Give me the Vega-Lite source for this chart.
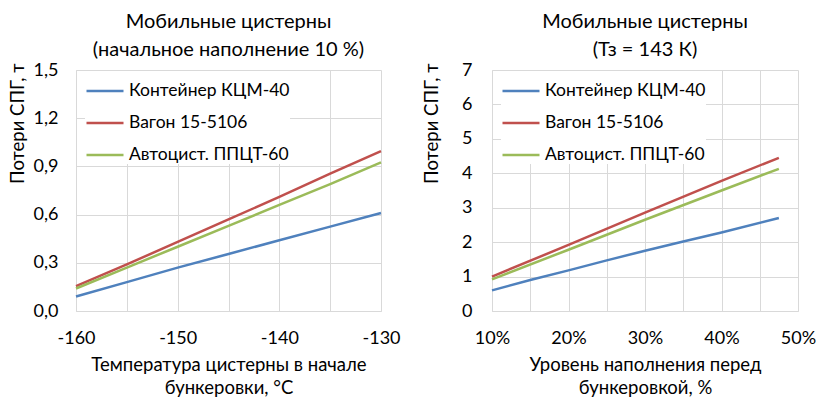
{
  "$schema": "https://vega.github.io/schema/vega-lite/v6.json",
  "padding": {"left": 8, "top": 12, "right": 0, "bottom": 0},
  "background": "white",
  "config": {
    "font": "Lato",
    "view": {"stroke": null},
    "title": {"fontSize": 20, "fontWeight": "normal", "color": "#000000", "lineHeight": 28, "offset": 1},
    "axis": {
      "labelFontSize": 18, "labelColor": "#000000", "titleFontSize": 18.5, "titleFontWeight": "normal", "titleColor": "#000000",
      "grid": true, "gridColor": "#d9d9d9", "gridWidth": 1, "domainColor": "#d9d9d9", "tickSize": 0, "tickColor": "#d9d9d9", "labelFlush": false
    },
    "legend": {"labelFontSize": 17.5, "labelColor": "#000000", "labelLimit": 400}
  },
  "datasets": {
    "left": [
      {"t": -160, "s": "Контейнер КЦМ-40", "v": 0.09},
      {"t": -155, "s": "Контейнер КЦМ-40", "v": 0.18},
      {"t": -150, "s": "Контейнер КЦМ-40", "v": 0.27},
      {"t": -145, "s": "Контейнер КЦМ-40", "v": 0.355},
      {"t": -140, "s": "Контейнер КЦМ-40", "v": 0.44},
      {"t": -135, "s": "Контейнер КЦМ-40", "v": 0.525},
      {"t": -130, "s": "Контейнер КЦМ-40", "v": 0.61},
      {"t": -160, "s": "Вагон 15-5106", "v": 0.155},
      {"t": -155, "s": "Вагон 15-5106", "v": 0.29},
      {"t": -150, "s": "Вагон 15-5106", "v": 0.43},
      {"t": -145, "s": "Вагон 15-5106", "v": 0.57},
      {"t": -140, "s": "Вагон 15-5106", "v": 0.71},
      {"t": -135, "s": "Вагон 15-5106", "v": 0.855},
      {"t": -130, "s": "Вагон 15-5106", "v": 0.995},
      {"t": -160, "s": "Автоцист. ППЦТ-60", "v": 0.14},
      {"t": -155, "s": "Автоцист. ППЦТ-60", "v": 0.27},
      {"t": -150, "s": "Автоцист. ППЦТ-60", "v": 0.4},
      {"t": -145, "s": "Автоцист. ППЦТ-60", "v": 0.53},
      {"t": -140, "s": "Автоцист. ППЦТ-60", "v": 0.66},
      {"t": -135, "s": "Автоцист. ППЦТ-60", "v": 0.79},
      {"t": -130, "s": "Автоцист. ППЦТ-60", "v": 0.925}
    ],
    "right": [
      {"f": 0.10, "s": "Контейнер КЦМ-40", "v": 0.6},
      {"f": 0.15, "s": "Контейнер КЦМ-40", "v": 0.9},
      {"f": 0.20, "s": "Контейнер КЦМ-40", "v": 1.18},
      {"f": 0.25, "s": "Контейнер КЦМ-40", "v": 1.47},
      {"f": 0.30, "s": "Контейнер КЦМ-40", "v": 1.75},
      {"f": 0.35, "s": "Контейнер КЦМ-40", "v": 2.02},
      {"f": 0.40, "s": "Контейнер КЦМ-40", "v": 2.28},
      {"f": 0.475, "s": "Контейнер КЦМ-40", "v": 2.7},
      {"f": 0.10, "s": "Вагон 15-5106", "v": 1.0},
      {"f": 0.20, "s": "Вагон 15-5106", "v": 1.92},
      {"f": 0.30, "s": "Вагон 15-5106", "v": 2.86},
      {"f": 0.40, "s": "Вагон 15-5106", "v": 3.78},
      {"f": 0.475, "s": "Вагон 15-5106", "v": 4.45},
      {"f": 0.10, "s": "Автоцист. ППЦТ-60", "v": 0.92},
      {"f": 0.20, "s": "Автоцист. ППЦТ-60", "v": 1.78},
      {"f": 0.30, "s": "Автоцист. ППЦТ-60", "v": 2.65},
      {"f": 0.40, "s": "Автоцист. ППЦТ-60", "v": 3.5},
      {"f": 0.475, "s": "Автоцист. ППЦТ-60", "v": 4.13}
    ]
  },
  "spacing": 21,
  "hconcat": [
    {
      "width": 305, "height": 241,
      "title": {"text": ["Мобильные цистерны", "(начальное наполнение 10 %)"]},
      "data": {"name": "left"},
      "mark": {"type": "line", "strokeWidth": 2.5},
      "encoding": {
        "x": {"field": "t", "type": "quantitative",
          "scale": {"domain": [-160, -130], "nice": false, "zero": false},
          "axis": {"grid": true, "values": [-160, -155, -150, -145, -140, -135, -130], "labelExpr": "datum.value % 10 === 0 ? replace(datum.label, '\u2212', '-') : ''",
            "labelPadding": 18, "title": ["Температура цистерны в начале", "бункеровки, °C"], "titlePadding": 8, "titleLineHeight": 23}},
        "y": {"field": "v", "type": "quantitative",
          "scale": {"domain": [0, 1.5], "nice": false},
          "axis": {"grid": true, "values": [0, 0.3, 0.6, 0.9, 1.2, 1.5], "labelExpr": "replace(format(datum.value, '.1f'), '.', ',')",
            "labelPadding": 18, "title": "Потери СПГ, т", "titleAnchor": "end", "titleY": -7, "titlePadding": 6}},
        "color": {"field": "s", "type": "nominal",
          "scale": {"domain": ["Контейнер КЦМ-40", "Вагон 15-5106", "Автоцист. ППЦТ-60"], "range": ["#4f81bd", "#c0504d", "#9bbb59"]},
          "legend": {"title": null, "orient": "none", "legendX": 9, "legendY": 1, "fillColor": "white", "padding": 0,
            "symbolType": "stroke", "symbolStrokeWidth": 2.5, "symbolSize": 1369, "labelOffset": 4, "rowPadding": 3}}
      }
    },
    {
      "width": 306, "height": 241,
      "title": {"text": ["Мобильные цистерны", "(Тз = 143 К)"]},
      "data": {"name": "right"},
      "mark": {"type": "line", "strokeWidth": 2.5},
      "encoding": {
        "x": {"field": "f", "type": "quantitative",
          "scale": {"domain": [0.1, 0.5], "nice": false, "zero": false},
          "axis": {"grid": true, "values": [0.1, 0.15, 0.2, 0.25, 0.3, 0.35, 0.4, 0.45, 0.5], "labelExpr": "round(datum.value * 100) % 10 === 0 ? format(datum.value, '.0%') : ''",
            "labelPadding": 18, "title": ["Уровень наполнения перед", "бункеровкой, %"], "titlePadding": 8, "titleLineHeight": 23}},
        "y": {"field": "v", "type": "quantitative",
          "scale": {"domain": [0, 7], "nice": false},
          "axis": {"grid": true, "values": [0, 1, 2, 3, 4, 5, 6, 7], "labelPadding": 20, "title": "Потери СПГ, т", "titleAnchor": "end", "titleY": -7, "titlePadding": 20}},
        "color": {"field": "s", "type": "nominal",
          "scale": {"domain": ["Контейнер КЦМ-40", "Вагон 15-5106", "Автоцист. ППЦТ-60"], "range": ["#4f81bd", "#c0504d", "#9bbb59"]},
          "legend": {"title": null, "orient": "none", "legendX": 9, "legendY": 1, "fillColor": "white", "padding": 0,
            "symbolType": "stroke", "symbolStrokeWidth": 2.5, "symbolSize": 1369, "labelOffset": 4, "rowPadding": 3}}
      }
    }
  ],
  "resolve": {"scale": {"color": "independent"}, "legend": {"color": "independent"}}
}
